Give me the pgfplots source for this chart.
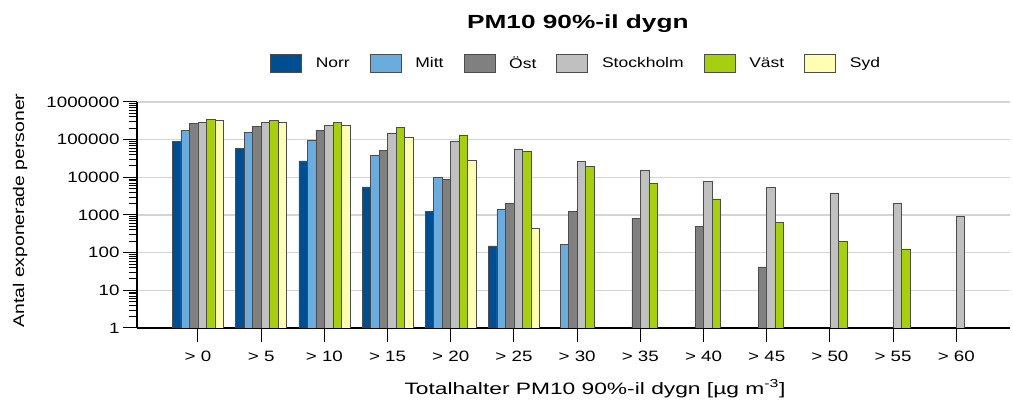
\documentclass[border=0pt]{standalone}
\usepackage{fontspec}
\setmainfont{Liberation Sans}
\newfontfamily\tickf{Liberation Sans}[FakeStretch=1.25]
\newfontfamily\widef{Liberation Sans}[FakeStretch=1.38]
\usepackage{pgfplots}
\pgfplotsset{compat=1.18}
\definecolor{cNorr}{RGB}{0,78,146}
\definecolor{cMitt}{RGB}{106,172,222}
\definecolor{cOst}{RGB}{128,128,128}
\definecolor{cSthlm}{RGB}{192,192,192}
\definecolor{cVast}{RGB}{168,206,16}
\definecolor{cSyd}{RGB}{255,255,180}
\newcommand\tickfont{\tickf\fontsize{15}{18}\selectfont}
\newcommand\legfont{\tickf\fontsize{14}{17}\selectfont}
\begin{document}
\begin{tikzpicture}
\path[use as bounding box] (-137pt,-73pt) rectangle (876pt,328pt);
\begin{axis}[
  at={(0,0)}, anchor=south west,
  scale only axis, width=873pt, height=226pt,
  ymode=log, ymin=1, ymax=1000000,
  xmin=-0.965, xmax=12.85,
  ybar=0pt, bar width=8.5pt,
  axis x line*=bottom, axis y line*=left,
  axis line style={line width=1.2pt, black},
  tick align=outside,
  major tick length=14pt, minor tick length=8pt,
  tick style={black, line width=1pt},
  xtick={0,1,2,3,4,5,6,7,8,9,10,11,12},
  xticklabels={{> 0},{> 5},{> 10},{> 15},{> 20},{> 25},{> 30},{> 35},{> 40},{> 45},{> 50},{> 55},{> 60}},
  ytick={1,10,100,1000,10000,100000,1000000},
  yticklabels={1,10,100,1000,10000,100000,1000000},
  minor ytick={2,3,4,5,6,7,8,9,20,30,40,50,60,70,80,90,200,300,400,500,600,700,800,900,2000,3000,4000,5000,6000,7000,8000,9000,20000,30000,40000,50000,60000,70000,80000,90000,200000,300000,400000,500000,600000,700000,800000,900000},
  /pgf/number format/assume math mode=true,
  tick label style={font=\tickfont},
  xticklabel style={yshift=-6pt},
  ymajorgrids,
  major grid style={line width=1.2pt, color=black!17},
  title={PM10 90\%-il dygn},
  title style={at={(axis description cs:0.505,1.322)}, anchor=center, font=\widef\bfseries\fontsize{19}{22}\selectfont},
  xlabel={Totalhalter PM10 90\%-il dygn [µg m\textsuperscript{-3}]},
  xlabel style={at={(axis description cs:0.5246,-0.268)}, anchor=center, font=\widef\fontsize{16.5}{19}\selectfont},
  ylabel={Antal exponerade personer},
  ylabel style={at={(axis description cs:-0.134,0.52)}, anchor=center, font=\tickf\fontsize{15.5}{18}\selectfont},
  legend columns=-1,
  legend style={draw=none, fill=none, at={(0.503,1.1726)}, anchor=center, font=\legfont,
    /tikz/every odd column/.append style={column sep=12pt},
    /tikz/every even column/.append style={column sep=18pt}},
  legend image code/.code={\draw[#1] (0pt,-9pt) rectangle (31pt,9pt);},
]
\addplot[fill=cNorr, draw=black!70, line width=0.6pt] coordinates {(0,89000) (1,59600) (2,27300) (3,5560) (4,1220) (5,152)};
\addplot[fill=cMitt, draw=black!70, line width=0.6pt] coordinates {(0,172000) (1,155000) (2,99000) (3,37800) (4,10000) (5,1440) (6,166)};
\addplot[fill=cOst, draw=black!70, line width=0.6pt] coordinates {(0,264000) (1,224000) (2,175000) (3,51400) (4,8900) (5,2050) (6,1220) (7,800) (8,509) (9,42)};
\addplot[fill=cSthlm, draw=black!70, line width=0.6pt] coordinates {(0,286000) (1,286000) (2,234000) (3,152000) (4,93000) (5,57100) (6,26200) (7,15500) (8,7890) (9,5330) (10,3850) (11,2050) (12,940)};
\addplot[fill=cVast, draw=black!70, line width=0.6pt] coordinates {(0,338000) (1,324000) (2,286000) (3,207000) (4,134000) (5,48400) (6,19700) (7,6800) (8,2670) (9,623) (10,203) (11,126)};
\addplot[fill=cSyd, draw=black!70, line width=0.6pt] coordinates {(0,324000) (1,286000) (2,238000) (3,117000) (4,27900) (5,432)};
\legend{Norr,Mitt,Öst,Stockholm,Väst,Syd}
\end{axis}
\end{tikzpicture}
\end{document}
